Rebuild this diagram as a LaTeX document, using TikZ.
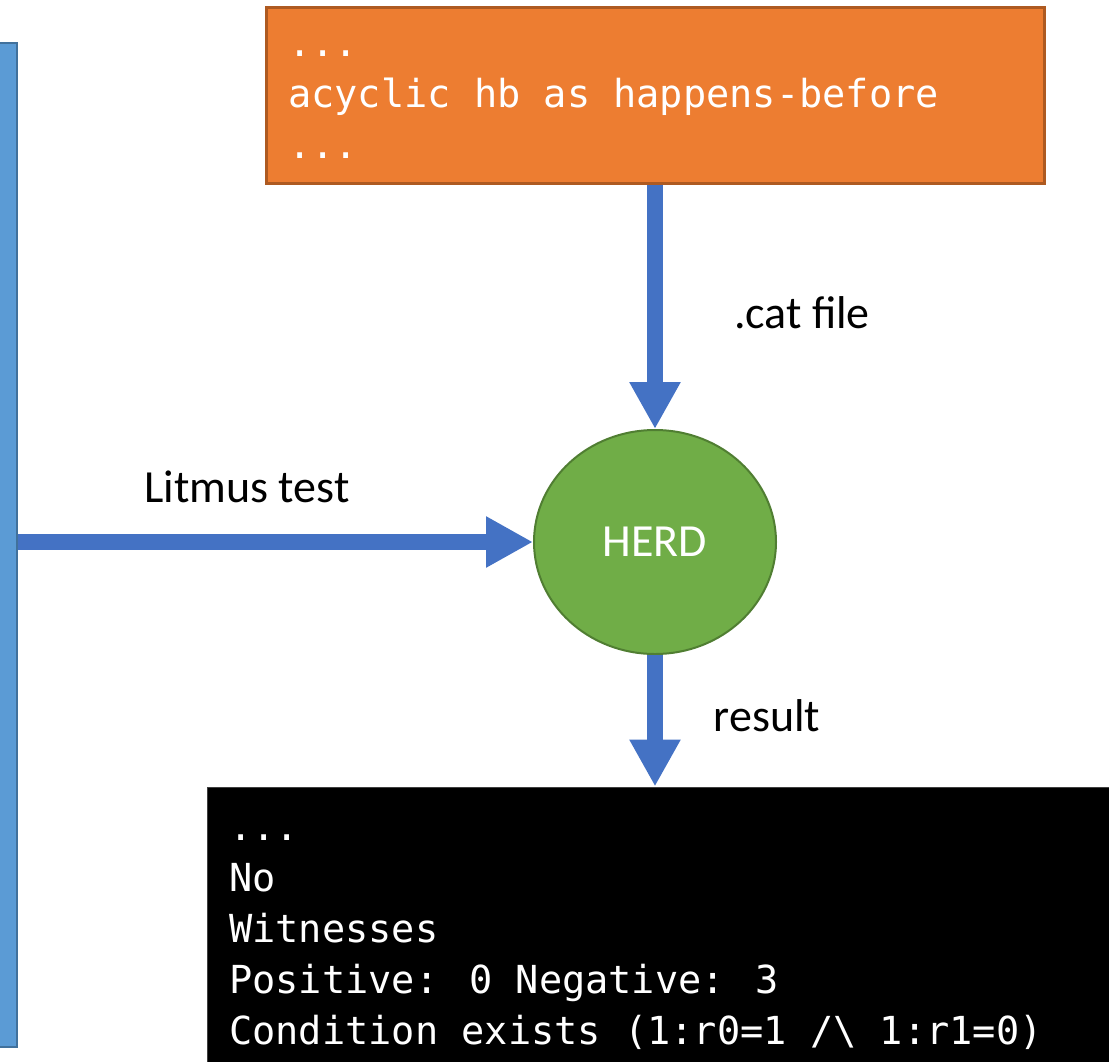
\documentclass[tikz,border=0pt]{standalone}
\usepackage{fontspec}
\setmainfont{Carlito}
\newfontfamily\codefont{DejaVu Sans Mono}
\usetikzlibrary{arrows.meta,shapes.geometric}

\definecolor{boxblue}{HTML}{5B9BD5}
\definecolor{boxblueline}{HTML}{41719C}
\definecolor{catorange}{HTML}{ED7D31}
\definecolor{catline}{HTML}{AE5A21}
\definecolor{herdgreen}{HTML}{70AD47}
\definecolor{herdline}{HTML}{507E32}
\definecolor{flowblue}{HTML}{4472C4}

\tikzset{
	label/.style={font=\fontsize{46}{55}\selectfont, inner sep=0pt},
	code/.style={font=\codefont\fontsize{38.6}{51}\selectfont, inner sep=0pt, anchor=base west},
	flow/.style={draw=flowblue, line width=16pt,
		-{Triangle[length=47pt,width=48pt]}},
}

\begin{document}
\begin{tikzpicture}[x=1pt,y=-1pt]
\useasboundingbox (0,0) rectangle (1109,1061);
\clip (0,0) rectangle (1109,1061);

% litmus side
\node[draw=boxblueline, fill=boxblue, line width=2.5pt, inner sep=0pt,
	minimum width=27pt, minimum height=1004pt] (litmus) at (3.5,545) {};

% model file
\node[draw=catline, fill=catorange, line width=3pt, inner sep=0pt,
	minimum width=778pt, minimum height=176pt] (cat) at (655,95) {};
\path (288,56) node[code, text=white] (cat1) {...};
\path (288,107) node[code, text=white] (cat2) {acyclic hb as happens-before};
\path (288,158) node[code, text=white] (cat3) {...};

% the tool
\node[ellipse, draw=herdline, fill=herdgreen, line width=2pt,
	minimum width=242pt, minimum height=224pt, inner sep=0pt] (herd) at (655,542) {};
\path (herd) node[label, text=white] (herdname) {HERD};

% output
\node[draw=black!75, fill=black, line width=1pt, inner sep=0pt,
	minimum width=923pt, minimum height=293pt] (out) at (668.5,933.5) {};
\path (229,840) node[code, text=white] (out1) {...};
\path (229,891) node[code, text=white] (out2) {No};
\path (229,942) node[code, text=white] (out3) {Witnesses};
\path (229,993) node[code, text=white] (out4) {Positive: 0 Negative: 3};
\path (229,1044) node[code, text=white] (out5) {Condition exists (1:r0=1 /\textbackslash{} 1:r1=0)};

\draw[flow] (cat.south) -- (herd.north);
\draw[flow] (litmus.east |- herd.west) -- (herd.west);
\draw[flow] (herd.south) -- (herd.south |- out.north);

\path (802,313) node[label] (catlbl) {.cat file};
\path (247,487) node[label] (litmuslbl) {Litmus test};
\path (767,716) node[label] (resultlbl) {result};

\end{tikzpicture}
\end{document}
